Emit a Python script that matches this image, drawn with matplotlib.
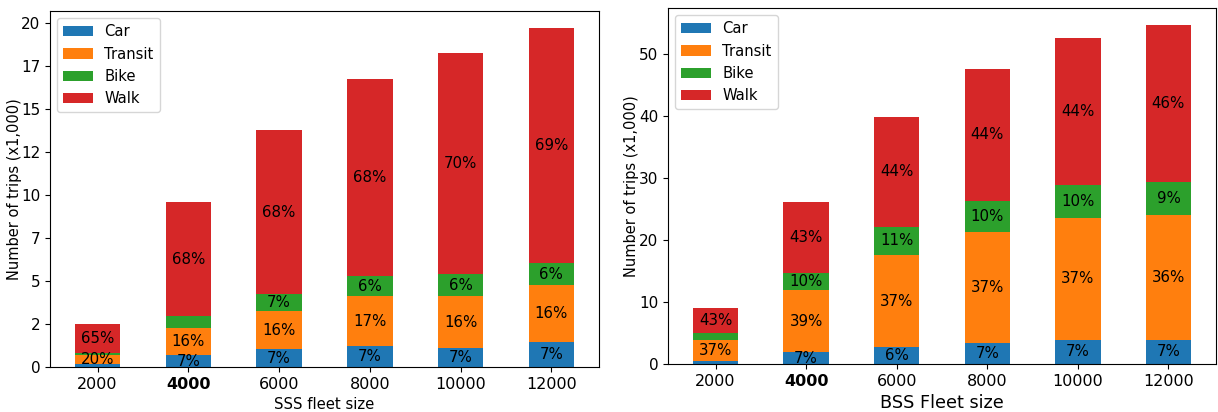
import numpy as np
import matplotlib.pyplot as plt
from matplotlib.ticker import MultipleLocator, FormatStrFormatter

fleet = ['2000', '4000', '6000', '8000', '10000', '12000']
modes = ['Car', 'Transit', 'Bike', 'Walk']
colors = ['#1f77b4', '#ff7f0e', '#2ca02c', '#d62728']

# SSS trips (x1,000), per mode
sss_car = [0.16, 0.68, 1.03, 1.20, 1.09, 1.44]
sss_transit = [0.54, 1.61, 2.21, 2.92, 3.03, 3.32]
sss_bike = [0.12, 0.66, 0.99, 1.16, 1.28, 1.28]
sss_walk = [1.67, 6.64, 9.56, 11.48, 12.87, 13.69]
sss_labels = [
    [None, '7%', '7%', '7%', '7%', '7%'],
    ['20%', '16%', '16%', '17%', '16%', '16%'],
    [None, None, '7%', '6%', '6%', '6%'],
    ['65%', '68%', '68%', '68%', '70%', '69%'],
]

# BSS trips (x1,000), per mode
bss_car = [0.43, 1.88, 2.69, 3.33, 3.92, 3.92]
bss_transit = [3.49, 10.11, 14.94, 18.01, 19.68, 20.17]
bss_bike = [1.13, 2.74, 4.52, 5.00, 5.32, 5.32]
bss_walk = [4.04, 11.45, 17.74, 21.29, 23.71, 25.32]
bss_labels = [
    [None, '7%', '6%', '7%', '7%', '7%'],
    ['37%', '39%', '37%', '37%', '37%', '36%'],
    [None, '10%', '11%', '10%', '10%', '9%'],
    ['43%', '43%', '44%', '44%', '44%', '46%'],
]


def stacked(ax, series, labels, pad):
    x = np.arange(len(fleet))
    bottom = np.zeros(len(fleet))
    for vals, name, c, labs in zip(series, modes, colors, labels):
        vals = np.array(vals)
        ax.bar(x, vals, 0.5, bottom=bottom, color=c, label=name)
        for xi, b, v, t in zip(x, bottom, vals, labs):
            if t:
                ax.text(xi, b + v / 2, t, ha='center', va='center', fontsize=10.8)
        bottom += vals
    ax.set_xticks(x)
    ax.set_xticklabels(fleet, fontsize=11.5)
    ax.get_xticklabels()[1].set_fontweight('bold')
    ax.tick_params(axis='y', labelsize=11)
    ax.set_ylabel('Number of trips (x1,000)', fontsize=10.5, labelpad=pad)
    ax.legend(loc='upper left', fontsize=10.6)


fig = plt.figure(figsize=(12.18, 4.12), dpi=100)
ax1 = fig.add_axes([0.041, 0.109, 0.4508, 0.864])
ax2 = fig.add_axes([0.5484, 0.1165, 0.4500, 0.864])

stacked(ax1, [sss_car, sss_transit, sss_bike, sss_walk], sss_labels, -0.5)
ax1.yaxis.set_major_locator(MultipleLocator(2.5))
ax1.yaxis.set_major_formatter(FormatStrFormatter('%d'))
ax1.set_xlabel('SSS fleet size', fontsize=10.7)

stacked(ax2, [bss_car, bss_transit, bss_bike, bss_walk], bss_labels, 0)
ax2.set_xlabel('BSS Fleet size', fontsize=12.7)

plt.savefig('out.png')
